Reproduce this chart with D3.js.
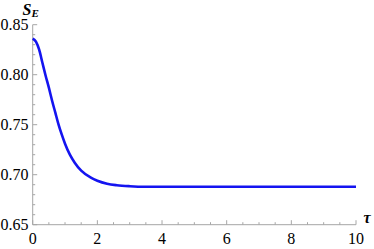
<!DOCTYPE html>
<html>
<head>
<meta charset="utf-8">
<script src="https://cdn.jsdelivr.net/npm/d3@7"></script>
<style>
  body { margin: 0; background: #fff; }
</style>
</head>
<body>
<svg width="374" height="249"></svg>
<script>
// Data
let tau = [0, 0.1, 0.2, 0.3, 0.4, 0.5, 0.6, 0.7, 0.8, 0.9, 1.0, 1.15, 1.3, 1.5, 1.8, 2.0, 2.3, 2.6, 3.0, 3.5, 4, 5, 6, 7, 8, 9, 10];
let entropy = [0.836, 0.833, 0.825, 0.812, 0.799, 0.787, 0.774, 0.762, 0.750, 0.740, 0.731, 0.720, 0.712, 0.704, 0.697, 0.694, 0.691, 0.6895, 0.6885, 0.688, 0.688, 0.688, 0.688, 0.688, 0.688, 0.688, 0.688];
let xTicks = [0, 2, 4, 6, 8, 10];
let yTicks = [0.65, 0.70, 0.75, 0.80, 0.85];

let svg = d3.select("svg");
let axisColor = "#a6a6a6";
let serif = "Liberation Serif";

let x = d3.scaleLinear().domain([0, 10]).range([32.7, 356]);
let y = d3.scaleLinear().domain([0.65, 0.85]).range([224.7, 24.7]);

// Axis lines
svg.append("line")
    .attr("x1", x(0)).attr("x2", x(10))
    .attr("y1", y(0.65)).attr("y2", y(0.65))
    .attr("stroke", axisColor).attr("stroke-width", 1);
svg.append("line")
    .attr("x1", x(0)).attr("x2", x(0))
    .attr("y1", y(0.65)).attr("y2", y(0.85))
    .attr("stroke", axisColor).attr("stroke-width", 1);

// x ticks (major every 2, minor every 0.5), pointing inward
let xMinor = d3.range(0, 21).map(i => i * 0.5);
svg.append("g").selectAll("line")
    .data(xMinor)
    .join("line")
    .attr("x1", d => x(d)).attr("x2", d => x(d))
    .attr("y1", y(0.65))
    .attr("y2", (d, i) => y(0.65) - (i % 4 === 0 ? 4.5 : 2.5))
    .attr("stroke", axisColor);
svg.append("g").selectAll("text")
    .data(xTicks)
    .join("text")
    .attr("x", d => x(d))
    .attr("y", 243.5)
    .attr("text-anchor", "middle")
    .attr("font-family", serif)
    .attr("font-size", 16)
    .text(d => d);

// y ticks (major every 0.05, minor every 0.01)
let yMinor = d3.range(0, 21).map(i => 0.65 + i * 0.01);
svg.append("g").selectAll("line")
    .data(yMinor)
    .join("line")
    .attr("y1", d => y(d)).attr("y2", d => y(d))
    .attr("x1", x(0))
    .attr("x2", (d, i) => x(0) + (i % 5 === 0 ? 4.5 : 2.5))
    .attr("stroke", axisColor);
svg.append("g").selectAll("text")
    .data(yTicks)
    .join("text")
    .attr("x", 28.5)
    .attr("y", d => y(d))
    .attr("dy", "0.34em")
    .attr("text-anchor", "end")
    .attr("font-family", serif)
    .attr("font-size", 16)
    .text(d => d3.format(".2f")(d));

// Curve
let line = d3.line()
    .x((d, i) => x(tau[i]))
    .y(d => y(d))
    .curve(d3.curveMonotoneX);
svg.append("path")
    .attr("d", line(entropy))
    .attr("fill", "none")
    .attr("stroke", "#1414f0")
    .attr("stroke-width", 2.6);

// Axis labels
let yl = svg.append("text")
    .attr("x", 22.5).attr("y", 15)
    .attr("font-family", serif)
    .attr("font-size", 16)
    .attr("font-weight", "bold")
    .attr("font-style", "italic");
yl.append("tspan").text("S");
yl.append("tspan").attr("font-size", 11).attr("dy", 2).text("E");

svg.append("text")
    .attr("x", 363.5).attr("y", 222.5)
    .attr("font-family", serif)
    .attr("font-size", 16)
    .attr("font-weight", "bold")
    .attr("font-style", "italic")
    .text("τ");
</script>
</body>
</html>
